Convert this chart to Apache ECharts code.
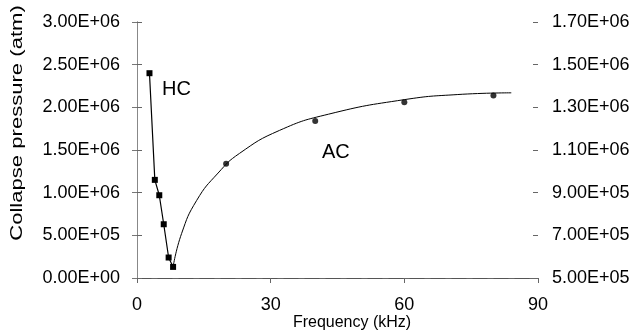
<!DOCTYPE html>
<html>
<head>
<meta charset="utf-8">
<script src="https://cdn.jsdelivr.net/npm/echarts@6/dist/echarts.min.js"></script>
<style>
html, body { margin: 0; padding: 0; background: #fff; }
#chart { width: 640px; height: 334px; }
</style>
</head>
<body>
<div id="chart"></div>
<script>
// collapse pressure vs frequency, HC and AC

var hcFreq = [2.8, 4, 5, 6, 7.1, 8.1];
var hcPressure = [2.40e6, 1.15e6, 0.97e6, 0.63e6, 0.24e6, 0.13e6];

var acFreq = [20, 40, 60, 80];
var acPressure = [1.34e6, 1.84e6, 2.06e6, 2.14e6];

// smooth curve drawn through the AC points
var fitFreq = [8.1, 10, 13.4, 18.2, 23, 32, 43, 60, 72, 84];
var fitPressure = [0.13e6, 0.52e6, 0.91e6, 1.23e6, 1.46e6, 1.73e6, 1.92e6, 2.09e6, 2.15e6, 2.17e6];

var xTicks = ['0', '30', '60', '90'];
var leftTicks = ['0.00E+00', '5.00E+05', '1.00E+06', '1.50E+06', '2.00E+06', '2.50E+06', '3.00E+06'];
var rightTicks = ['5.00E+05', '7.00E+05', '9.00E+05', '1.10E+06', '1.30E+06', '1.50E+06', '1.70E+06'];

function pairs(xs, ys) {
    var out = [];
    for (var i = 0; i < xs.length; i++) out.push([xs[i], ys[i]]);
    return out;
}

var font = 'Liberation Sans, Arial, sans-serif';
var chart = echarts.init(document.getElementById('chart'));

chart.setOption({
    animation: false,
    grid: { left: 137, right: 102, top: 22, bottom: 56 },
    xAxis: [
        {
            type: 'value', min: 0, max: 90, interval: 30,
            axisLine: { lineStyle: { color: '#666', width: 1 } },
            axisTick: { show: true, length: 5, lineStyle: { color: '#666' } },
            splitLine: { show: false },
            axisLabel: {
                margin: 18, fontSize: 18, color: '#000', fontFamily: font,
                formatter: function (v, i) { return xTicks[i]; }
            }
        },
        {
            type: 'value', min: 0, max: 90, position: 'top',
            axisLine: { show: true, lineStyle: { color: '#555', width: 1, type: [14, 7] } },
            axisTick: { show: false },
            axisLabel: { show: false },
            splitLine: { show: false }
        }
    ],
    yAxis: [
        {
            type: 'value', min: 0, max: 3e6, interval: 5e5,
            axisLine: { show: true, lineStyle: { color: '#777', width: 1 } },
            axisTick: { show: true, length: 5, lineStyle: { color: '#777' } },
            splitLine: { show: false },
            axisLabel: {
                margin: 17, fontSize: 18, color: '#000', fontFamily: font,
                formatter: function (v, i) { return leftTicks[i]; }
            }
        },
        {
            type: 'value', min: 0, max: 6, interval: 1, position: 'right',
            axisLine: { show: true, lineStyle: { color: '#888', width: 1 } },
            axisTick: { show: true, length: 5, lineStyle: { color: '#666' } },
            splitLine: { show: false },
            axisLabel: {
                margin: 14, fontSize: 18, color: '#000', fontFamily: font,
                formatter: function (v, i) { return rightTicks[i]; }
            }
        },
        {
            // inner half of the cross ticks on the right axis
            type: 'value', min: 0, max: 6, interval: 1, position: 'right',
            axisLine: { show: false },
            axisTick: { show: true, inside: true, length: 5, lineStyle: { color: '#666' } },
            axisLabel: { show: false },
            splitLine: { show: false }
        }
    ],
    graphic: [
        {
            type: 'text', x: 18, y: 123, rotation: Math.PI / 2, scaleX: 1.38,
            style: {
                text: 'Collapse pressure (atm)', fontSize: 16, fontFamily: font, fill: '#000',
                align: 'center', verticalAlign: 'middle', textAlign: 'center', textVerticalAlign: 'middle'
            }
        },
        {
            type: 'text', x: 352, y: 323,
            style: {
                text: 'Frequency (kHz)', fontSize: 16, fontFamily: font, fill: '#000',
                align: 'center', verticalAlign: 'middle', textAlign: 'center', textVerticalAlign: 'middle'
            }
        },
        {
            type: 'text', x: 162, y: 89,
            style: {
                text: 'HC', fontSize: 20, fontFamily: font, fill: '#000',
                align: 'left', verticalAlign: 'middle', textAlign: 'left', textVerticalAlign: 'middle'
            }
        },
        {
            type: 'text', x: 322, y: 152,
            style: {
                text: 'AC', fontSize: 20, fontFamily: font, fill: '#000',
                align: 'left', verticalAlign: 'middle', textAlign: 'left', textVerticalAlign: 'middle'
            }
        }
    ],
    series: [
        {
            name: 'HC', type: 'line',
            data: pairs(hcFreq, hcPressure),
            symbol: 'rect', symbolSize: 6,
            lineStyle: { color: '#000', width: 1.2 },
            itemStyle: { color: '#000' }
        },
        {
            name: 'AC fit', type: 'line',
            data: pairs(fitFreq, fitPressure),
            smooth: 0.5, showSymbol: false, symbol: 'none',
            lineStyle: { color: '#000', width: 1 }
        },
        {
            name: 'AC', type: 'scatter',
            data: pairs(acFreq, acPressure),
            symbol: 'circle', symbolSize: 6,
            itemStyle: { color: '#000' }
        }
    ]
});
</script>
</body>
</html>
